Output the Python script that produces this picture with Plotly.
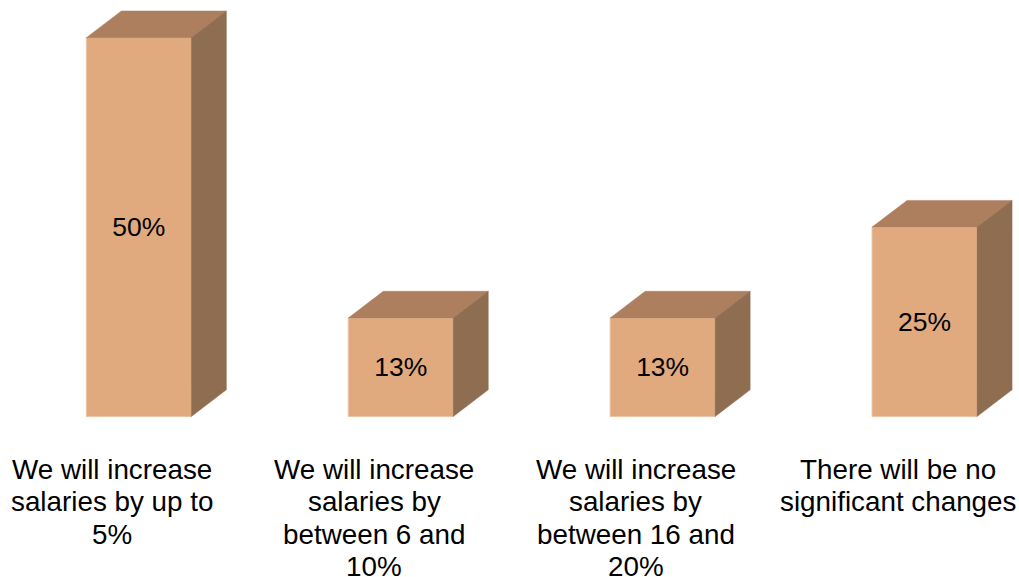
import plotly.graph_objects as go

# Survey answers about salary plans and their shares (%)
categories = [
    "We will increase<br>salaries by up to<br>5%",
    "We will increase<br>salaries by<br>between 6 and<br>10%",
    "We will increase<br>salaries by<br>between 16 and<br>20%",
    "There will be no<br>significant changes",
]
shares = [50, 13, 13, 25]
value_labels = [f"{v}%" for v in shares]

# Colours of the three visible faces of each box
FRONT = "#E0AA7E"
TOP = "#AD7F5E"
SIDE = "#8E6D50"

W, H = 1019, 577
BASE_PX = 416.5          # pixel row of the zero line
PX_PER_UNIT_Y = 7.576    # pixels per percentage point
FIRST_PX = 138.85        # pixel column of the first category
PX_PER_CAT = 261.9       # pixels between categories

bar_w = 105 / PX_PER_CAT        # front face width in category units
depth_x = 35 / PX_PER_CAT       # oblique depth offset, horizontal
depth_y = 26.7 / PX_PER_UNIT_Y  # oblique depth offset, vertical
label_shift = -26.7 / PX_PER_CAT

x_range = [-FIRST_PX / PX_PER_CAT, (W - FIRST_PX) / PX_PER_CAT]
y_range = [-(H - BASE_PX) / PX_PER_UNIT_Y, BASE_PX / PX_PER_UNIT_Y]

xs = list(range(len(categories)))

fig = go.Figure()

# Top and side faces for the 3D look
for x, v in zip(xs, shares):
    l, r = x - bar_w / 2, x + bar_w / 2
    fig.add_trace(go.Scatter(
        x=[l, r, r + depth_x, l + depth_x, l],
        y=[v, v, v + depth_y, v + depth_y, v],
        fill="toself", fillcolor=TOP, mode="lines",
        line=dict(width=0.5, color=TOP), hoverinfo="skip", showlegend=False,
    ))
    fig.add_trace(go.Scatter(
        x=[r, r + depth_x, r + depth_x, r, r],
        y=[0, depth_y, v + depth_y, v, 0],
        fill="toself", fillcolor=SIDE, mode="lines",
        line=dict(width=0.5, color=SIDE), hoverinfo="skip", showlegend=False,
    ))

# Front faces with value labels
fig.add_trace(go.Bar(
    x=xs, y=shares, width=bar_w,
    marker=dict(color=FRONT, line=dict(color="#EBC3A2", width=1)),
    text=value_labels, textposition="inside", insidetextanchor="middle",
    textfont=dict(family="Liberation Sans, Arial, sans-serif", size=26.5, color="#000000"),
    textangle=0, hoverinfo="skip", showlegend=False,
))

# Category labels, one annotation per line for tight line spacing
LINE_GAP = 32.5
FIRST_LINE_MID = 469
annotations = []
for x, cat in zip(xs, categories):
    for k, line in enumerate(cat.split("<br>")):
        px = FIRST_LINE_MID + LINE_GAP * k
        annotations.append(dict(
            x=x + label_shift, xref="x",
            y=1 - px / H, yref="paper",
            text=line, showarrow=False,
            xanchor="center", yanchor="middle",
            font=dict(family="Liberation Sans, Arial, sans-serif", size=27.8, color="#000000"),
        ))

fig.update_layout(
    width=W, height=H,
    margin=dict(l=0, r=0, t=0, b=0),
    paper_bgcolor="white", plot_bgcolor="white",
    xaxis=dict(range=x_range, visible=False, fixedrange=True),
    yaxis=dict(range=y_range, visible=False, fixedrange=True),
    annotations=annotations,
    uniformtext=dict(minsize=26, mode="show"),
)

fig.write_html("out.html")
